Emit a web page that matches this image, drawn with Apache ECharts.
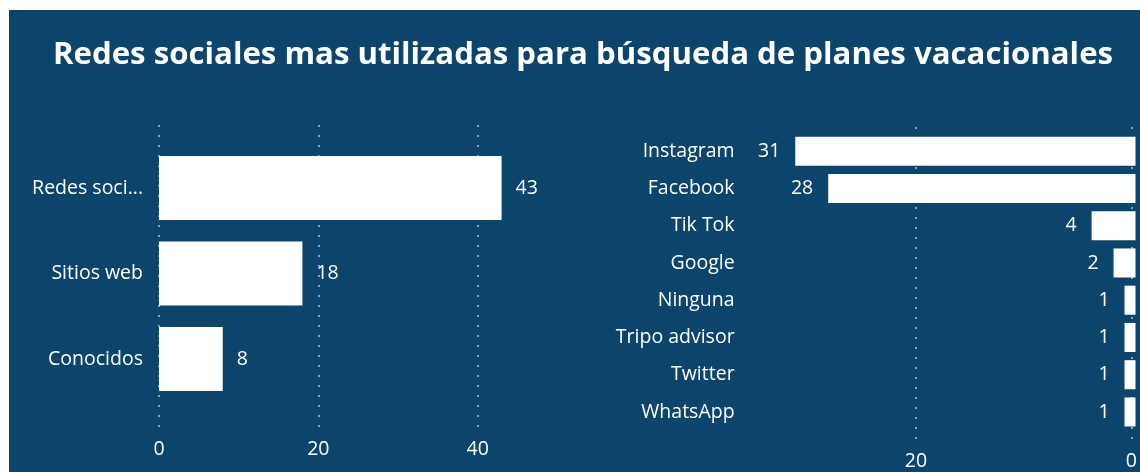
<!DOCTYPE html>
<html>
<head>
<meta charset="utf-8">
<title>Redes sociales</title>
<script src="https://cdn.jsdelivr.net/npm/echarts@6/dist/echarts.min.js"></script>
<style>
    html, body { margin: 0; padding: 0; background: #ffffff; }
    #chart { position: absolute; left: 9px; top: 10px; width: 1131px; height: 462px; }
</style>
</head>
<body>
<div id="chart"></div>
<script>
// Fuente de origen
var leftCategories = ['Redes sociales', 'Sitios web', 'Conocidos'];
var leftValues = [43, 18, 8];
var leftTicks = [0, 20, 40];

// Redes sociales
var rightCategories = ['Instagram', 'Facebook', 'Tik Tok', 'Google', 'Ninguna', 'Tripo advisor', 'Twitter', 'WhatsApp'];
var rightValues = [31, 28, 4, 2, 1, 1, 1, 1];
var rightTicks = [0, 20];

var FONT = 'Open Sans';
var TEXT = '#ffffff';
var SIZE = 19.5;

var myChart = echarts.init(document.getElementById('chart'));

var grid = {
    dotted: {
        show: true,
        lineStyle: { color: '#8ea2b4', width: 2, type: [2, 8] }
    }
};

var option = {
    backgroundColor: '#0b456b',
    animation: false,
    title: {
        text: 'Redes sociales mas utilizadas para búsqueda de planes vacacionales',
        left: 569,
        top: 20,
        textAlign: 'center',
        textStyle: {
            color: TEXT,
            fontFamily: FONT,
            fontWeight: 'bold',
            fontSize: 31.2,
            lineHeight: 40
        }
    },
    grid: [
        { left: 150, width: 318.7, top: 135.25, height: 256.5 },
        { left: 150, width: 318.7, top: 115, height: 307 },
        { left: 907, width: 219.5, top: 122.6, height: 298 },
        { left: 907, width: 219.5, top: 117, height: 315 }
    ],
    xAxis: [
        { gridIndex: 0, type: 'value', min: 0, max: leftTicks[leftTicks.length - 1], show: false },
        {
            gridIndex: 1, type: 'value', min: 0, max: leftTicks[leftTicks.length - 1],
            interval: leftTicks[1] - leftTicks[0],
            axisLine: { show: false }, axisTick: { show: false },
            axisLabel: { color: TEXT, fontFamily: FONT, fontSize: SIZE, margin: 7 },
            splitLine: grid.dotted
        },
        { gridIndex: 2, type: 'value', min: 0, max: rightTicks[rightTicks.length - 1], inverse: true, show: false },
        {
            gridIndex: 3, type: 'value', min: 0, max: rightTicks[rightTicks.length - 1],
            interval: rightTicks[1] - rightTicks[0], inverse: true,
            axisLine: { show: false }, axisTick: { show: false },
            axisLabel: { color: TEXT, fontFamily: FONT, fontSize: SIZE, margin: 9 },
            splitLine: grid.dotted
        }
    ],
    yAxis: [
        {
            gridIndex: 0, type: 'category', data: leftCategories, inverse: true,
            axisLine: { show: false }, axisTick: { show: false },
            axisLabel: {
                color: TEXT, fontFamily: FONT, fontSize: SIZE, margin: 16,
                width: 118, overflow: 'truncate', ellipsis: '...'
            }
        },
        { gridIndex: 1, type: 'value', min: 0, max: 1, show: false },
        {
            gridIndex: 2, type: 'category', data: rightCategories, inverse: true,
            offset: 173.4,
            axisLine: { show: false }, axisTick: { show: false },
            axisLabel: { color: TEXT, fontFamily: FONT, fontSize: SIZE, margin: 8 }
        },
        { gridIndex: 3, type: 'value', min: 0, max: 1, show: false }
    ],
    series: [
        {
            name: 'Fuente',
            type: 'bar',
            xAxisIndex: 0,
            yAxisIndex: 0,
            data: leftValues,
            barCategoryGap: '25%',
            clip: false,
            itemStyle: { color: '#ffffff' },
            label: {
                show: true, position: 'right', distance: 14,
                color: TEXT, fontFamily: FONT, fontSize: SIZE
            }
        },
        {
            name: 'Red social',
            type: 'bar',
            xAxisIndex: 2,
            yAxisIndex: 2,
            data: rightValues,
            barCategoryGap: '22%',
            clip: false,
            itemStyle: { color: '#ffffff' },
            label: {
                show: true, position: 'left', distance: 15,
                color: TEXT, fontFamily: FONT, fontSize: SIZE
            }
        }
    ]
};

myChart.setOption(option);
</script>
</body>
</html>
